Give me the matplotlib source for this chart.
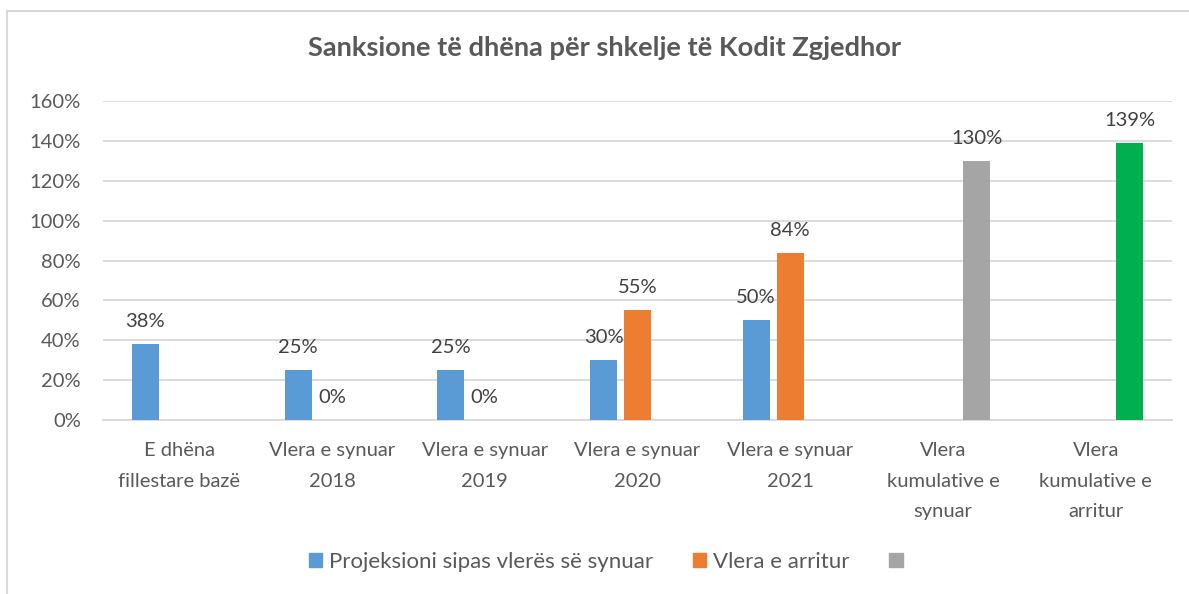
import matplotlib
matplotlib.use("Agg")
import matplotlib.pyplot as plt
import numpy as np
from matplotlib.patches import Rectangle, Patch

plt.rcParams['font.family'] = ['Lato', 'DejaVu Sans']

title = "Sanksione të dhëna për shkelje të Kodit Zgjedhor"
categories = ["E dhëna\nfillestare bazë", "Vlera e synuar\n2018", "Vlera e synuar\n2019",
              "Vlera e synuar\n2020", "Vlera e synuar\n2021", "Vlera\nkumulative e\nsynuar",
              "Vlera\nkumulative e\narritur"]
series_names = ["Projeksioni sipas vlerës së synuar", "Vlera e arritur", ""]
projeksioni = [0.38, 0.25, 0.25, 0.30, 0.50, None, None]
arritur = [None, 0.0, 0.0, 0.55, 0.84, None, None]
kumulative = [None, None, None, None, None, 1.30, 1.39]
yticks = [0, 0.2, 0.4, 0.6, 0.8, 1.0, 1.2, 1.4, 1.6]

colors = ["#5B9BD5", "#ED7D31", "#A5A5A5"]
point_colors_kum = ["#A5A5A5"] * 5 + ["#A5A5A5", "#00B050"]
text_col = "#595959"

fig = plt.figure(figsize=(11.89, 5.94), dpi=100)
ax = fig.add_axes([103/1189, 1-420/594, (1172-103)/1189, (420-101)/594])

x = np.arange(len(categories))
width = 0.177
offsets = [-0.223, 0.0, 0.223]
all_series = [projeksioni, arritur, kumulative]
for si, (vals, off) in enumerate(zip(all_series, offsets)):
    for i, v in enumerate(vals):
        if v is None:
            continue
        c = colors[si] if si < 2 else point_colors_kum[i]
        ax.bar(x[i] + off, v, width, color=c, zorder=3)
        ax.annotate(f"{round(v*100):d}%", (x[i] + off, v), xytext=(0, 10),
                    textcoords="offset points", ha="center", va="bottom",
                    fontsize=14.5, color="#404040")

ax.set_xlim(-0.5, len(categories) - 0.5)
ax.set_ylim(0, 1.6)
ax.set_yticks(yticks)
ax.set_yticklabels([f"{round(t*100):d}%" for t in yticks], fontsize=14.5, color=text_col)
ax.set_xticks(x)
ax.set_xticklabels(categories, fontsize=14.5, color=text_col, linespacing=1.95)
ax.tick_params(axis="both", length=0)
ax.tick_params(axis="x", pad=16)
ax.tick_params(axis="y", pad=16)
ax.grid(axis="y", color="#D9D9D9", linewidth=1.3, zorder=0)
for s in ["top", "right", "left"]:
    ax.spines[s].set_visible(False)
ax.spines["bottom"].set_color("#D9D9D9")
ax.spines["bottom"].set_linewidth(1.3)

fig.text(605/1189, 1 - 48/594, title, ha="center", va="center",
         fontsize=19.6, fontweight="bold", color=text_col)

handles = [Patch(color=c) for c in colors]
fig.legend(handles, series_names, loc="center", bbox_to_anchor=(609/1189, 1 - 562/594),
           ncol=3, frameon=False, fontsize=16, labelcolor=text_col,
           handlelength=0.6, handleheight=0.6, handletextpad=0.3, columnspacing=1.8)

fig.patches.append(Rectangle((7/1189, -0.05), 1.1, 1 - 11/594 + 0.05,
                             transform=fig.transFigure, fill=False,
                             edgecolor="#D9D9D9", linewidth=1.5))

fig.savefig("out.png", dpi=100, facecolor="white")
